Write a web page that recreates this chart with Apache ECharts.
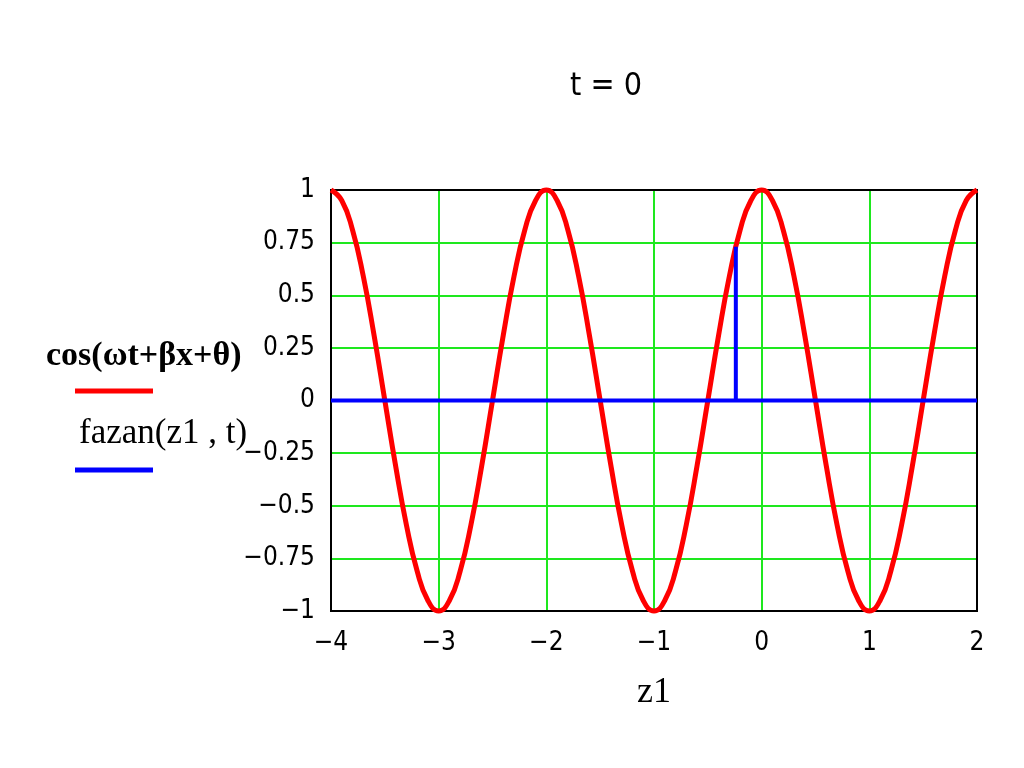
<!DOCTYPE html>
<html>
<head>
<meta charset="utf-8">
<script src="https://cdn.jsdelivr.net/npm/echarts@6/dist/echarts.min.js"></script>
<style>html,body{margin:0;padding:0;background:#fff;}#c{width:1024px;height:768px;}</style>
</head>
<body>
<div id="c"></div>
<script>
// z1 sample positions and read values of the red curve cos(ωt+βx+θ)
const z1 = [-4,-3.9,-3.8,-3.7,-3.6,-3.5,-3.4,-3.3,-3.2,-3.1,-3,-2.9,-2.8,-2.7,-2.6,-2.5,-2.4,-2.3,-2.2,-2.1,-2,-1.9,-1.8,-1.7,-1.6,-1.5,-1.4,-1.3,-1.2,-1.1,-1,-0.9,-0.8,-0.7,-0.6,-0.5,-0.4,-0.3,-0.2,-0.1,0,0.1,0.2,0.3,0.4,0.5,0.6,0.7,0.8,0.9,1,1.1,1.2,1.3,1.4,1.5,1.6,1.7,1.8,1.9,2];
const cosVals = [1,0.95,0.81,0.59,0.31,0,-0.31,-0.59,-0.81,-0.95,-1,-0.95,-0.81,-0.59,-0.31,0,0.31,0.59,0.81,0.95,1,0.95,0.81,0.59,0.31,0,-0.31,-0.59,-0.81,-0.95,-1,-0.95,-0.81,-0.59,-0.31,0,0.31,0.59,0.81,0.95,1,0.95,0.81,0.59,0.31,0,-0.31,-0.59,-0.81,-0.95,-1,-0.95,-0.81,-0.59,-0.31,0,0.31,0.59,0.81,0.95,1];
// fazan(z1,t): zero line with a spike
const fazanX = [-4,-0.24,-0.24,-0.24,2];
const fazanY = [0,0,0.73,0,0];
const xTicks = [-4,-3,-2,-1,0,1,2];
const yTicks = [-1,-0.75,-0.5,-0.25,0,0.25,0.5,0.75,1];
const titleText = 't = 0';
const legendNames = ['cos(ωt+βx+θ)','fazan(z1 , t)'];
const xName = 'z1';

const fmt = v => String(v).replace('-', '\u2212');
const redData = z1.map((x,i)=>[x,cosVals[i]]);
const blueData = fazanX.map((x,i)=>[x,fazanY[i]]);
const tickFont = {fontFamily:'DejaVu Sans Condensed, DejaVu Sans', fontSize:26, color:'#000'};

const chart = echarts.init(document.getElementById('c'));
chart.setOption({
  animation:false,
  backgroundColor:'#fff',
  title:{text:titleText,left:601,top:66,textAlign:'center',
    textStyle:{fontFamily:'DejaVu Sans Condensed, DejaVu Sans',fontSize:32,fontWeight:'normal',color:'#000'}},
  grid:{left:331,right:47,top:190,bottom:157,show:true,borderColor:'#000',borderWidth:2,backgroundColor:'transparent',z:3},
  xAxis:{type:'value',min:xTicks[0],max:xTicks[xTicks.length-1],interval:1,
    name:xName,nameLocation:'middle',nameGap:64,
    nameTextStyle:{fontFamily:'Liberation Serif',fontSize:36,color:'#000'},
    axisLine:{show:false},axisTick:{show:false},
    axisLabel:Object.assign({margin:19,formatter:fmt},tickFont),
    splitLine:{show:true,showMinLine:false,showMaxLine:false,lineStyle:{color:'#1ee81e',width:2}}},
  yAxis:{type:'value',min:yTicks[0],max:yTicks[yTicks.length-1],interval:0.25,
    axisLine:{show:false},axisTick:{show:false},
    axisLabel:Object.assign({margin:16,formatter:fmt},tickFont),
    splitLine:{show:true,showMinLine:false,showMaxLine:false,lineStyle:{color:'#1ee81e',width:2}}},
  series:[
    {type:'line',name:legendNames[0],data:redData,smooth:true,showSymbol:false,clip:false,z:4,
      lineStyle:{color:'#ff0000',width:5},itemStyle:{color:'#ff0000'}},
    {type:'line',name:legendNames[1],data:blueData,showSymbol:false,z:5,
      lineStyle:{color:'#0000ff',width:4},itemStyle:{color:'#0000ff'}}
  ],
  graphic:[
    {type:'text',left:46,top:339,style:{text:legendNames[0],font:'bold 34px "Liberation Serif"',fill:'#000'}},
    {type:'line',shape:{x1:75,y1:391,x2:153,y2:391},style:{stroke:'#ff0000',lineWidth:5}},
    {type:'text',left:79,top:416,style:{text:legendNames[1],font:'35px "Liberation Serif"',fill:'#000'}},
    {type:'line',shape:{x1:75,y1:470,x2:153,y2:470},style:{stroke:'#0000ff',lineWidth:5}}
  ]
});
</script>
</body>
</html>
